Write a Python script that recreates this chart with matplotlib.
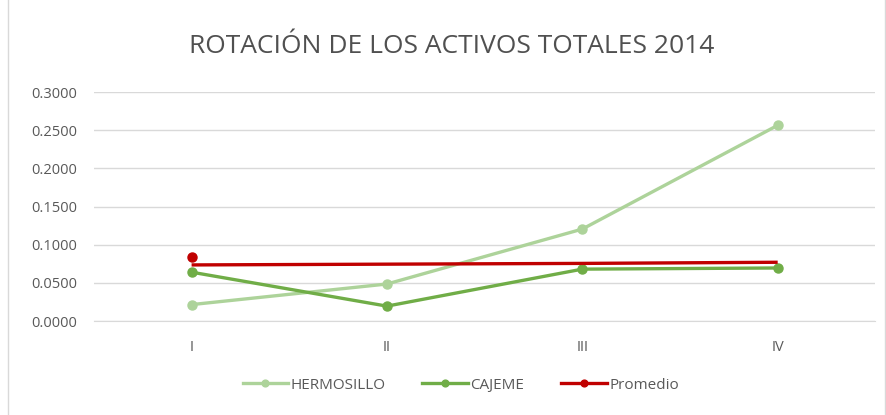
import matplotlib
matplotlib.use('Agg')
import matplotlib.pyplot as plt

plt.rcParams['font.family'] = ['Open Sans', 'DejaVu Sans']

categories = ['I', 'II', 'III', 'IV']
hermosillo = [0.0215, 0.0485, 0.1205, 0.2565]
cajeme = [0.0640, 0.0195, 0.0680, 0.0695]
promedio_point = [0.0835]
promedio_line = [0.0735, 0.0745, 0.0755, 0.0770]
yticks = [0.0, 0.05, 0.10, 0.15, 0.20, 0.25, 0.30]

c_her = '#add39a'
c_caj = '#70ad47'
c_pro = '#c00000'
txt = '#595959'

fig = plt.figure(figsize=(8.86, 4.15), dpi=100)
ax = fig.add_axes([0.106, 0.2265, 0.882, 0.5515])
x = list(range(len(categories)))

ax.plot(x, hermosillo, color=c_her, lw=2.4, marker='o', ms=6.5, label='HERMOSILLO', zorder=3)
ax.plot(x, cajeme, color=c_caj, lw=2.4, marker='o', ms=6.5, label='CAJEME', zorder=4)
ax.plot(x, promedio_line, color=c_pro, lw=2.4, zorder=5, solid_capstyle='butt')
ax.plot([0], promedio_point, color=c_pro, marker='o', ms=6.5, lw=0, zorder=5)
ax.plot([], [], color=c_pro, lw=2.4, marker='o', ms=6.5, label='Promedio')

ax.set_xlim(-0.5, 3.5)
ax.set_ylim(0, 0.3)
ax.set_xticks(x)
ax.set_xticklabels(categories)
ax.set_yticks(yticks)
ax.set_yticklabels(['%.4f' % v for v in yticks])
ax.grid(axis='y', color='#d9d9d9', lw=1)
ax.set_axisbelow(True)
for s in ['top', 'right', 'left']:
    ax.spines[s].set_visible(False)
ax.spines['bottom'].set_color('#d9d9d9')
ax.tick_params(length=0, colors=txt, labelsize=10.5)
ax.tick_params(axis='y', pad=12)
ax.tick_params(axis='x', pad=14)

fig.text(0.510, 0.887, 'ROTACIÓN DE LOS ACTIVOS TOTALES 2014', ha='center', va='center',
         fontsize=19, color='#505050')

leg = fig.legend(loc='center', bbox_to_anchor=(0.52, 0.072), ncol=3, frameon=False,
                 fontsize=11, handlelength=3.0, columnspacing=2.4, handletextpad=0.15,
                 markerscale=0.75)
for t in leg.get_texts():
    t.set_color(txt)

fig.patches.append(plt.Rectangle((0.009, -0.01), 0.99, 1.02, transform=fig.transFigure,
                                 fill=False, edgecolor='#d9d9d9', lw=1))

fig.savefig('out.png', dpi=100)
